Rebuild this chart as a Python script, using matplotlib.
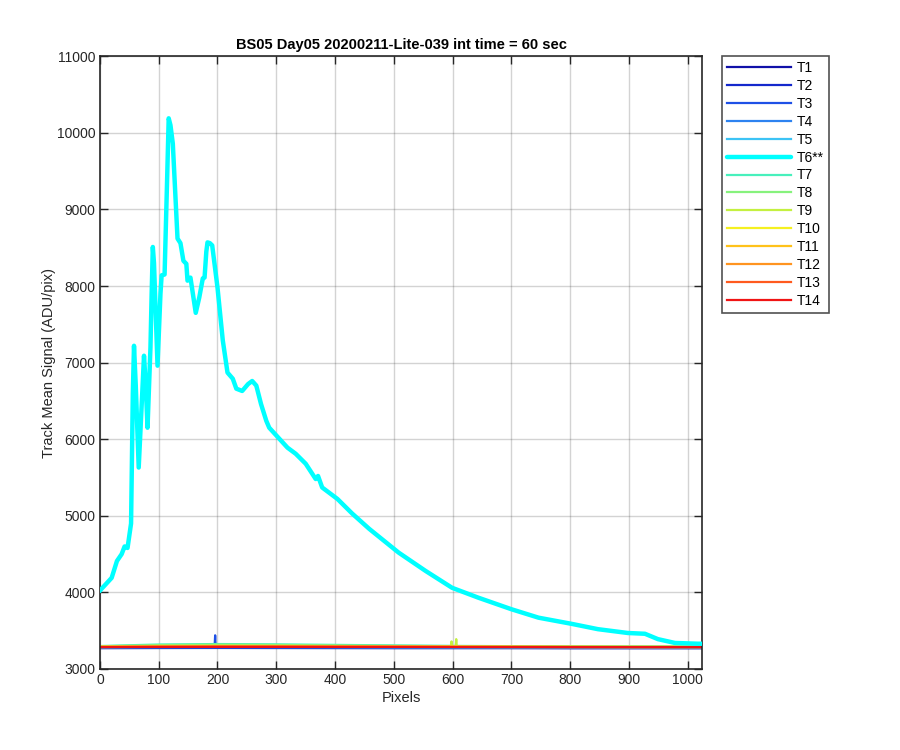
import matplotlib
matplotlib.use('Agg')
import matplotlib.pyplot as plt

plt.rcParams['font.family'] = ['Liberation Sans', 'DejaVu Sans']

title = 'BS05 Day05 20200211-Lite-039 int time = 60 sec'
names = ['T1', 'T2', 'T3', 'T4', 'T5', 'T6**', 'T7', 'T8', 'T9', 'T10',
         'T11', 'T12', 'T13', 'T14']
colors = ['#1010a8', '#1428cc', '#1e50e6', '#2d82f0', '#3cc3f5', '#00ffff',
          '#48f0bc', '#86f27c', '#c4f040', '#f5f020', '#ffc21a', '#ff9420',
          '#ff5a1e', '#f01414']

# T6 track (the bright one)
t6_x = [0, 2, 20, 29, 37, 42, 47, 53, 56, 58, 61, 66, 72, 75, 78, 81, 86,
        88, 90, 92, 98, 103, 105, 110, 114, 117, 120, 124, 132, 137, 142,
        147, 149, 154, 163, 169, 175, 178, 181, 183, 187, 191, 200, 209, 217,
        226, 232, 242, 252, 259, 266, 274, 283, 288, 319, 333, 350, 367, 371,
        378, 404, 429, 458, 508, 554, 599, 644, 700, 746, 802, 847, 898, 927,
        949, 978, 1017, 1023]
t6_y = [4020, 4040, 4190, 4410, 4500, 4600, 4580, 4900, 6600, 7220, 6700,
        5630, 6600, 7090, 6700, 6150, 7200, 7900, 8510, 8300, 6960, 7900,
        8140, 8150, 9300, 10190, 10100, 9860, 8620, 8560, 8330, 8290, 8070,
        8110, 7650, 7850, 8100, 8110, 8450, 8570, 8560, 8530, 7980, 7290,
        6870, 6790, 6660, 6630, 6720, 6760, 6700, 6460, 6240, 6150, 5890,
        5810, 5680, 5480, 5520, 5370, 5220, 5030, 4830, 4520, 4280, 4060,
        3930, 3780, 3670, 3590, 3520, 3470, 3460, 3390, 3340, 3330, 3330]

# the other tracks sit on a flat baseline
base_x = [0, 100, 200, 300, 400, 500, 600, 700, 800, 900, 1023]
base_y = {
    'T1':  [3272, 3274, 3275, 3274, 3273, 3272, 3272, 3272, 3271, 3271, 3271],
    'T2':  [3276, 3278, 3279, 3278, 3277, 3276, 3276, 3276, 3275, 3275, 3275],
    'T3':  [3280, 3283, 3284, 3283, 3282, 3281, 3280, 3280, 3279, 3279, 3279],
    'T4':  [3282, 3285, 3286, 3285, 3284, 3283, 3282, 3282, 3281, 3281, 3281],
    'T5':  [3285, 3290, 3292, 3290, 3288, 3286, 3285, 3284, 3284, 3283, 3283],
    'T7':  [3300, 3320, 3326, 3322, 3315, 3308, 3302, 3298, 3296, 3295, 3294],
    'T8':  [3296, 3312, 3318, 3314, 3308, 3302, 3297, 3294, 3292, 3291, 3290],
    'T9':  [3292, 3302, 3306, 3304, 3300, 3296, 3293, 3291, 3290, 3289, 3289],
    'T10': [3290, 3296, 3299, 3298, 3295, 3293, 3291, 3290, 3289, 3288, 3288],
    'T11': [3289, 3293, 3296, 3295, 3293, 3291, 3290, 3289, 3288, 3287, 3287],
    'T12': [3288, 3291, 3293, 3292, 3291, 3290, 3289, 3288, 3287, 3287, 3287],
    'T13': [3287, 3290, 3291, 3291, 3290, 3289, 3288, 3287, 3287, 3286, 3286],
    'T14': [3286, 3288, 3289, 3289, 3288, 3288, 3287, 3287, 3286, 3286, 3286],
}
# single-pixel spikes: (track, pixel, value)
spikes = [('T3', 196, 3440), ('T9', 598, 3360), ('T9', 606, 3390)]


def track(name):
    xs = list(base_x)
    ys = list(base_y[name])
    for sname, sx, sy in spikes:
        if sname != name:
            continue
        # baseline value at the spike, taken from the nearest listed point
        i = max(j for j in range(len(xs)) if xs[j] <= sx)
        b = ys[i]
        xs[i + 1:i + 1] = [sx - 1, sx, sx + 1]
        ys[i + 1:i + 1] = [b, sy, b]
    return xs, ys


fig = plt.figure(figsize=(9, 7.5), dpi=100)
ax = fig.add_axes([0.111, 0.108, 0.669, 0.817])

for name, col in zip(names, colors):
    if name == 'T6**':
        ax.plot(t6_x, t6_y, color=col, lw=3.2, label=name, zorder=3,
                solid_joinstyle='round', solid_capstyle='round')
    else:
        xs, ys = track(name)
        ax.plot(xs, ys, color=col, lw=1.6, label=name, zorder=2)

ax.set_xlim(0, 1024)
ax.set_ylim(3000, 11000)
ax.set_xticks(range(0, 1001, 100))
ax.set_yticks(range(3000, 11001, 1000))
ax.grid(True, color='#262626', alpha=0.2, lw=1.0)
ax.set_axisbelow(True)
ax.tick_params(direction='in', top=True, right=True, labelsize=10,
               colors='#262626', length=6, width=1.0, pad=3)
for s in ax.spines.values():
    s.set_color('#262626')
    s.set_linewidth(1.2)

ax.set_xlabel('Pixels', fontsize=10.5, color='#262626', labelpad=3)
ax.set_ylabel('Track Mean Signal (ADU/pix)', fontsize=10.5, color='#262626',
              labelpad=1)
ax.set_title(title, fontsize=10.5, fontweight='bold', pad=5)

leg = fig.legend(loc='upper left', bbox_to_anchor=(0.802, 0.925),
                 fontsize=10, frameon=True, fancybox=False, labelspacing=0.28,
                 handlelength=4.6, handletextpad=0.45, borderpad=0.35,
                 borderaxespad=0)
leg.get_frame().set_edgecolor('#262626')
leg.get_frame().set_linewidth(1.2)

fig.savefig('out.png', dpi=100)
